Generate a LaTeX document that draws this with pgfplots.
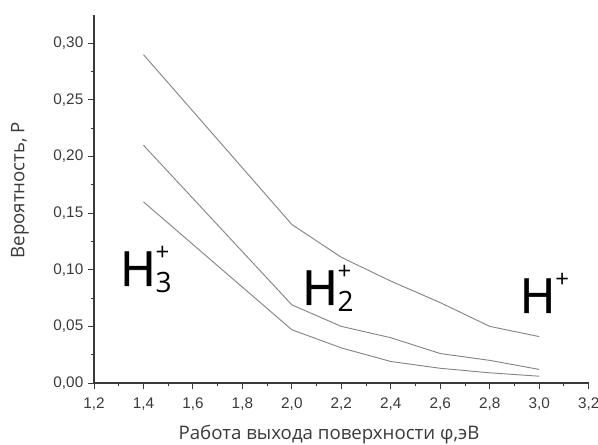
\documentclass[border=0pt]{standalone}
\usepackage{pgfplots}
\pgfplotsset{compat=1.18}
\usepackage{fontspec}
\setmainfont{Open Sans}
\newfontfamily\tickfont{Liberation Sans}
\newfontfamily\ionfont{Open Sans}[FakeBold=1.2]
\definecolor{txt}{HTML}{3A3A3A}
\definecolor{ln}{HTML}{858585}

% ion label: H with stacked subscript / superscript
\newcommand{\ion}[1]{{\ionfont\fontsize{36}{40}\selectfont H}\rlap{\raisebox{19pt}{\fontsize{18}{19}\selectfont +}}\raisebox{-5pt}{\fontsize{21}{22}\selectfont #1}}

\begin{document}
\begin{tikzpicture}
\begin{axis}[
  scale only axis,
  width=371pt, height=276pt,
  xmin=1.2, xmax=3.2,
  ymin=0, ymax=0.325,
  axis x line*=bottom,
  axis y line*=left,
  axis line style={-, line width=0.8pt, txt},
  tick align=outside,
  major tick length=4.5pt,
  minor tick length=2.5pt,
  tick style={txt, line width=0.7pt},
  xtick={1.2,1.4,...,3.2},
  ytick={0,0.05,...,0.30},
  minor x tick num=1,
  minor y tick num=1,
  /pgf/number format/assume math mode=true,
  /pgf/number format/use comma,
  xticklabel style={/pgf/number format/.cd, fixed, fixed zerofill, precision=1, /tikz/.cd, yshift=-3pt},
  yticklabel style={/pgf/number format/.cd, fixed, fixed zerofill, precision=2},
  ticklabel style={font=\tickfont\fontsize{11.5}{13}\selectfont, text=txt},
  xlabel={Работа выхода поверхности φ,эВ},
  ylabel={Вероятность, P},
  label style={font=\fontsize{14}{16}\selectfont, text=txt},
  xlabel style={at={(axis description cs:0.475,-0.14)}, anchor=center},
  ylabel style={at={(axis description cs:-0.1495,0.524)}, anchor=center},
]
\addplot[ln, line width=0.7pt] coordinates {(1.4,0.290) (2.0,0.140) (2.2,0.111) (2.4,0.090) (2.6,0.071) (2.8,0.050) (3.0,0.041)};
\addplot[ln, line width=0.7pt] coordinates {(1.4,0.210) (2.0,0.069) (2.2,0.050) (2.4,0.040) (2.6,0.026) (2.8,0.020) (3.0,0.012)};
\addplot[ln, line width=0.7pt] coordinates {(1.4,0.160) (2.0,0.047) (2.2,0.031) (2.4,0.019) (2.6,0.013) (2.8,0.009) (3.0,0.006)};
\node[anchor=base west, inner sep=0pt] at (axis cs:1.305,0.0858) {\ion{3}};
\node[anchor=base west, inner sep=0pt] at (axis cs:2.041,0.069) {\ion{2}};
\node[anchor=base west, inner sep=0pt] at (axis cs:2.921,0.062) {{\ionfont\fontsize{36}{40}\selectfont H}\raisebox{19pt}{\fontsize{18}{19}\selectfont +}};
\coordinate (ll) at (rel axis cs:0,0);
\end{axis}
\pgfresetboundingbox
\path ([shift={(-70.5pt,-45.75pt)}]ll) rectangle ([shift={(378pt,287.25pt)}]ll);
\end{tikzpicture}
\end{document}
